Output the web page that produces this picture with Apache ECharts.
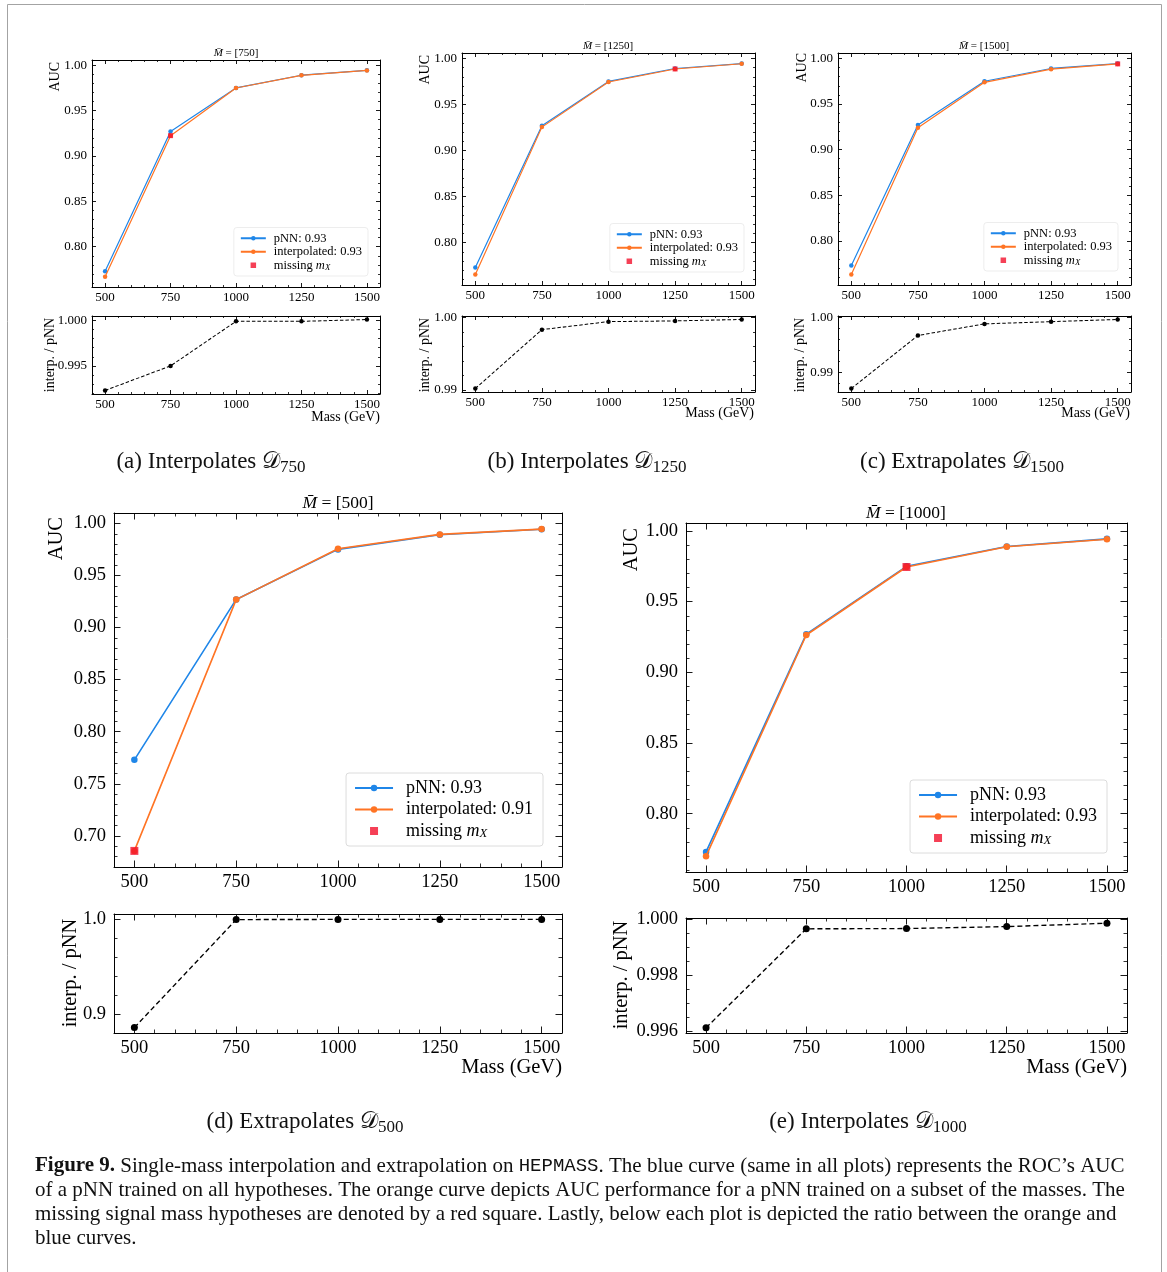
<!DOCTYPE html>
<html>
<head>
<meta charset="utf-8">
<script src="https://cdn.jsdelivr.net/npm/echarts@6/dist/echarts.min.js"></script>
<style>
  html, body { margin: 0; padding: 0; background: #fff; }
  #chart { width: 1167px; height: 1272px; }
</style>
</head>
<body>
<div id="chart"></div>
<script>
// ---- data ----
const masses = [500, 750, 1000, 1250, 1500];
const massTicks = ['500', '750', '1000', '1250', '1500'];

// pNN trained on all masses (blue, same in every panel)
const aucPnn = [0.773, 0.927, 0.975, 0.989, 0.9944];

// pNN trained without one mass (orange)
const aucInterp750 = [0.767, 0.9224, 0.9749, 0.9889, 0.9943];
const aucInterp1250 = [0.7655, 0.9254, 0.9744, 0.9885, 0.9942];
const aucInterp1500 = [0.7631, 0.9240, 0.9738, 0.9882, 0.9940];
const aucInterp500 = [0.6856, 0.9268, 0.9757, 0.9894, 0.9945];
const aucInterp1000 = [0.7700, 0.9264, 0.9745, 0.9888, 0.9941];

// interp. / pNN
const ratio750 = [0.9923, 0.9950, 0.9999, 0.9999, 1.0001];
const ratio1250 = [0.9902, 0.9983, 0.9994, 0.9995, 0.9997];
const ratio1500 = [0.9871, 0.9967, 0.9988, 0.9992, 0.9996];
const ratio500 = [0.8862, 0.9998, 1.0000, 1.0000, 1.0000];
const ratio1000 = [0.99611, 0.99965, 0.99966, 0.99973, 0.99985];

// tick labels
const aucTicks = ['0.80', '0.85', '0.90', '0.95', '1.00'];
const aucTicks500 = ['0.70', '0.75', '0.80', '0.85', '0.90', '0.95', '1.00'];
const ratioTicks750 = ['0.995', '1.000'];
const ratioTicks1250 = ['0.99', '1.00'];
const ratioTicks1500 = ['0.99', '1.00'];
const ratioTicks500 = ['0.9', '1.0'];
const ratioTicks1000 = ['0.996', '0.998', '1.000'];

// legend scores
const pnnScore = '0.93';
const interpScores = ['0.93', '0.93', '0.93', '0.91', '0.93'];

const panels = [
  { mass: 750, auc: aucInterp750, ratio: ratio750, yTicks: aucTicks, rTicks: ratioTicks750, sub: '(a) Interpolates ' },
  { mass: 1250, auc: aucInterp1250, ratio: ratio1250, yTicks: aucTicks, rTicks: ratioTicks1250, sub: '(b) Interpolates ' },
  { mass: 1500, auc: aucInterp1500, ratio: ratio1500, yTicks: aucTicks, rTicks: ratioTicks1500, sub: '(c) Extrapolates ' },
  { mass: 500, auc: aucInterp500, ratio: ratio500, yTicks: aucTicks500, rTicks: ratioTicks500, sub: '(d) Extrapolates ' },
  { mass: 1000, auc: aucInterp1000, ratio: ratio1000, yTicks: aucTicks, rTicks: ratioTicks1000, sub: '(e) Interpolates ' }
];

// ---- layout (pixels) ----
const layouts = [
  { big: false, left: 92, width: 288, top: 60, height: 227, rTop: 316, rHeight: 78, legend: { right: 799, bottom: 996 },
    aucLab: [55, 62], ratioLab: [50, 355], massLab: [380, 417], title: [236, 59], sub: [211, 462] },
  { big: false, left: 462, width: 293, top: 53, height: 232, rTop: 316, rHeight: 76, legend: { right: 423, bottom: 1000 },
    aucLab: [425, 55], ratioLab: [425, 355], massLab: [754, 413], title: [608, 52], sub: [587, 462] },
  { big: false, left: 838, width: 293, top: 53, height: 232, rTop: 316, rHeight: 76, legend: { right: 49, bottom: 1001 },
    aucLab: [802, 53], ratioLab: [800, 355], massLab: [1130, 413], title: [984, 52], sub: [962, 462] },
  { big: true, left: 114, width: 448, top: 513, height: 354, rTop: 914, rHeight: 119, legend: { right: 624, bottom: 426 },
    aucLab: [57, 517], ratioLab: [71, 973], massLab: [562, 1068], title: [338, 512], sub: [305, 1122] },
  { big: true, left: 686, width: 441, top: 523, height: 349, rTop: 918, rHeight: 115, legend: { right: 60, bottom: 419 },
    aucLab: [632, 528], ratioLab: [622, 975], massLab: [1127, 1068], title: [906, 522], sub: [868, 1122] }
];

const SMALL = { tickFont: 13, labFont: 14, titleFont: 11, legFont: 12.5, legLH: 13.5, legGap: 0, legPad: [4, 6, 4, 6],
  iconW: 25, iconH: 5.5, textPad: 3, tick: 4, minor: 2, sym: 4.5, lw: 1.2, sq: 5, rSym: 4.5, yMargin: 5, xMargin: 4,
  legBorder: '#ededed' };
const BIG = { tickFont: 18.5, labFont: 20.5, titleFont: 17.5, legFont: 18, legLH: 18, legGap: 3.5, legPad: [6, 10, 6, 8],
  iconW: 38, iconH: 8, textPad: 8, tick: 6.5, minor: 3.5, sym: 6.5, lw: 1.6, sq: 8, rSym: 7, yMargin: 8, xMargin: 6,
  legBorder: '#dcdcdc' };

const FONT = 'Liberation Serif';
const BLUE = '#1f86e8';
const ORANGE = '#ff7424';
const RED = '#f2102c';

function padExtent(values) {
  const lo = Math.min(...values);
  const hi = Math.max(...values);
  const m = (hi - lo) * 0.05;
  return [lo - m, hi + m];
}

// matplotlib-like minor division count
function minorDivs(step) {
  const mant = step / Math.pow(10, Math.floor(Math.log10(step) + 1e-9));
  return [1, 2.5, 5, 10].some(v => Math.abs(v - mant) < 1e-6) ? 5 : 4;
}

function valueAxis(g, ext, ticks, pos, showLabel, sz) {
  const step = +(parseFloat(ticks[1]) - parseFloat(ticks[0])).toFixed(10);
  const dec = (ticks[0].split('.')[1] || '').length;
  const vertical = pos === 'left' || pos === 'right';
  return {
    type: 'value',
    gridIndex: g,
    position: pos,
    min: ext[0],
    max: ext[1],
    minInterval: step,
    maxInterval: step,
    axisLine: { show: true, onZero: false, lineStyle: { color: '#000', width: 1 } },
    axisTick: { show: true, inside: true, length: sz.tick, lineStyle: { color: '#000', width: 0.9 } },
    minorTick: { show: true, splitNumber: minorDivs(step), length: sz.minor, lineStyle: { color: '#000', width: 0.8 } },
    splitLine: { show: false },
    minorSplitLine: { show: false },
    axisLabel: {
      show: showLabel,
      margin: vertical ? sz.yMargin : sz.xMargin,
      fontFamily: FONT,
      fontSize: sz.tickFont,
      color: '#000',
      formatter: v => {
        const s = v.toFixed(dec);
        return ticks.includes(s) && Math.abs(parseFloat(s) - v) < step * 1e-3 ? s : '';
      }
    }
  };
}

const grids = [];
const xAxes = [];
const yAxes = [];
const series = [];
const legends = [];
const graphics = [];

const MISSING = 'missing mX';

panels.forEach((p, i) => {
  const L = layouts[i];
  const sz = L.big ? BIG : SMALL;
  const gm = 2 * i;
  const gr = 2 * i + 1;
  grids.push({ left: L.left, top: L.top, width: L.width, height: L.height });
  grids.push({ left: L.left, top: L.rTop, width: L.width, height: L.rHeight });

  const xExt = padExtent(masses);
  const yExt = padExtent(aucPnn.concat(p.auc));
  const rExt = padExtent(p.ratio);

  [gm, gr].forEach(g => {
    xAxes.push(valueAxis(g, xExt, massTicks, 'bottom', true, sz));
    xAxes.push(valueAxis(g, xExt, massTicks, 'top', false, sz));
  });
  yAxes.push(valueAxis(gm, yExt, p.yTicks, 'left', true, sz));
  yAxes.push(valueAxis(gm, yExt, p.yTicks, 'right', false, sz));
  yAxes.push(valueAxis(gr, rExt, p.rTicks, 'left', true, sz));
  yAxes.push(valueAxis(gr, rExt, p.rTicks, 'right', false, sz));

  const pnnName = 'pNN: ' + pnnScore;
  const interpName = 'interpolated: ' + interpScores[i];

  series.push({
    type: 'line', name: pnnName, xAxisIndex: 2 * gm, yAxisIndex: 2 * gm,
    data: masses.map((m, k) => [m, aucPnn[k]]),
    symbol: 'circle', symbolSize: sz.sym, showSymbol: true,
    lineStyle: { color: BLUE, width: sz.lw }, itemStyle: { color: BLUE }, z: 2
  });
  series.push({
    type: 'line', name: interpName, xAxisIndex: 2 * gm, yAxisIndex: 2 * gm,
    data: masses.map((m, k) => [m, p.auc[k]]),
    symbol: 'circle', symbolSize: sz.sym, showSymbol: true,
    lineStyle: { color: ORANGE, width: sz.lw }, itemStyle: { color: ORANGE }, z: 3
  });
  const mi = masses.indexOf(p.mass);
  series.push({
    type: 'scatter', name: MISSING, xAxisIndex: 2 * gm, yAxisIndex: 2 * gm,
    data: [[p.mass, p.auc[mi]]],
    symbol: 'rect', symbolSize: sz.sq, itemStyle: { color: RED }, z: 4
  });
  series.push({
    type: 'line', name: 'ratio' + p.mass, xAxisIndex: 2 * gr, yAxisIndex: 2 * gr,
    data: masses.map((m, k) => [m, p.ratio[k]]),
    symbol: 'circle', symbolSize: sz.rSym, showSymbol: true,
    lineStyle: { color: '#000', width: sz.lw * 0.85, type: L.big ? [5, 3] : [3.5, 2] },
    itemStyle: { color: '#000' }, z: 2
  });

  legends.push({
    orient: 'vertical',
    right: L.legend.right,
    bottom: L.legend.bottom,
    data: [pnnName, interpName, { name: MISSING, icon: 'path://M0 0H10V10H0Z' }],
    itemWidth: sz.iconW,
    itemHeight: sz.iconH,
    itemGap: sz.legGap,
    symbolKeepAspect: true,
    selectedMode: false,
    padding: sz.legPad,
    borderColor: sz.legBorder,
    borderWidth: 1,
    borderRadius: 3,
    backgroundColor: '#fff',
    formatter: n => n === MISSING ? 'missing {i|m}{s|X}' : n,
    textStyle: {
      fontFamily: FONT, fontSize: sz.legFont, color: '#000', lineHeight: sz.legLH,
      padding: [0, 0, 0, sz.textPad],
      rich: {
        i: { fontFamily: FONT, fontStyle: 'italic', fontSize: sz.legFont, lineHeight: sz.legLH },
        s: { fontFamily: FONT, fontStyle: 'italic', fontSize: sz.legFont * 0.7, lineHeight: sz.legLH * 0.75, verticalAlign: 'bottom' }
      }
    }
  });

  // titles and axis names
  graphics.push({
    type: 'text', x: L.title[0], y: L.title[1],
    style: {
      text: '{i|M\u0304} = [' + p.mass + ']', fontFamily: FONT, fontSize: sz.titleFont, fill: '#000',
      align: 'center', verticalAlign: 'bottom',
      rich: { i: { fontFamily: FONT, fontStyle: 'italic', fontSize: sz.titleFont } }
    }
  });
  graphics.push({
    type: 'text', x: L.aucLab[0], y: L.aucLab[1], rotation: Math.PI / 2,
    style: { text: 'AUC', fontFamily: FONT, fontSize: sz.labFont, fill: '#000', align: 'right', verticalAlign: 'middle' }
  });
  graphics.push({
    type: 'text', x: L.ratioLab[0], y: L.ratioLab[1], rotation: Math.PI / 2,
    style: { text: 'interp. / pNN', fontFamily: FONT, fontSize: sz.labFont, fill: '#000', align: 'center', verticalAlign: 'middle' }
  });
  graphics.push({
    type: 'text', x: L.massLab[0], y: L.massLab[1],
    style: { text: 'Mass (GeV)', fontFamily: FONT, fontSize: sz.labFont, fill: '#000', align: 'right', verticalAlign: 'middle' }
  });
  graphics.push({
    type: 'text', x: L.sub[0], y: L.sub[1],
    style: {
      text: '{n|' + p.sub + '}{c|\uD835\uDC9F}{s|' + p.mass + '}',
      fill: '#111', align: 'center', verticalAlign: 'middle',
      rich: {
        n: { fontFamily: FONT, fontSize: 23, lineHeight: 28 },
        c: { fontFamily: 'DejaVu Serif, DejaVu Sans, ' + FONT, fontSize: 23, lineHeight: 28 },
        s: { fontFamily: FONT, fontSize: 17, lineHeight: 18, verticalAlign: 'bottom' }
      }
    }
  });
});

// outer frame
graphics.unshift({
  type: 'rect', z: -10, silent: true,
  shape: { x: 7.5, y: 4.5, width: 1154, height: 1300 },
  style: { fill: '#fff', stroke: '#a3a3a3', lineWidth: 1 }
});

// figure caption
graphics.push({
  type: 'text', x: 35, y: 1154,
  style: {
    text: '{b|Figure 9.} Single-mass interpolation and extrapolation on {m|HEPMASS}. The blue curve (same in all plots) represents the ROC\u2019s AUC\n' +
      'of a pNN trained on all hypotheses. The orange curve depicts AUC performance for a pNN trained on a subset of the masses. The\n' +
      'missing signal mass hypotheses are denoted by a red square. Lastly, below each plot is depicted the ratio between the orange and\n' +
      'blue curves.',
    fontFamily: FONT, fontSize: 21, lineHeight: 24, fill: '#111', align: 'left', verticalAlign: 'top',
    rich: {
      b: { fontFamily: FONT, fontSize: 21, fontWeight: 'bold', lineHeight: 24 },
      m: { fontFamily: 'Liberation Mono', fontSize: 19, lineHeight: 24 }
    }
  }
});

const chart = echarts.init(document.getElementById('chart'), null, { renderer: 'canvas' });
chart.setOption({
  animation: false,
  backgroundColor: '#fff',
  grid: grids,
  xAxis: xAxes,
  yAxis: yAxes,
  legend: legends,
  series: series,
  graphic: graphics
});
</script>
</body>
</html>
